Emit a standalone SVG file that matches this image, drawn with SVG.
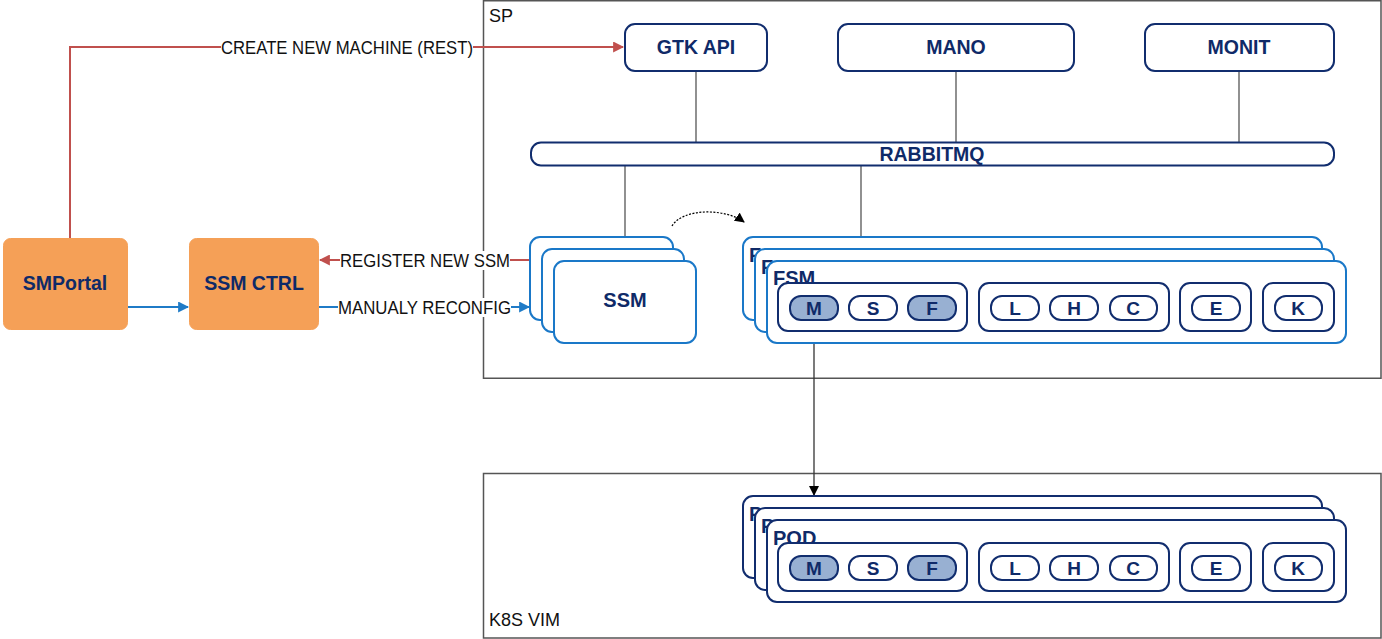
<svg xmlns="http://www.w3.org/2000/svg" width="1382" height="639" viewBox="0 0 1382 639">
<defs>
<style>
.frame{fill:#fff;stroke:#555;stroke-width:1.5}
.lbl{font-family:"Liberation Sans",Arial,sans-serif;font-size:18px;fill:#111}
.nt{font-family:"Liberation Sans",Arial,sans-serif;font-weight:bold;font-size:19.5px;fill:#0f2a68;text-anchor:middle}
.pt{font-family:"Liberation Sans",Arial,sans-serif;font-weight:bold;font-size:19px;fill:#0f2a68;text-anchor:middle}
.ct{font-family:"Liberation Sans",Arial,sans-serif;font-weight:bold;font-size:20px;fill:#0f2a68}
.box{fill:#fff;stroke:#112d6e;stroke-width:2}
.card{fill:#fff;stroke:#1a78c8;stroke-width:2}
.pod{fill:#fff;stroke:#112d6e;stroke-width:2}
.grp{fill:#fff;stroke:#112d6e;stroke-width:2}
.pill{fill:#fff;stroke:#112d6e;stroke-width:2}
.pillf{fill:#98b0d2;stroke:#112d6e;stroke-width:2}
.orange{fill:#f5a057;stroke:#f5a057;stroke-width:1}
.bus{fill:none;stroke:#555;stroke-width:1.3}
.red{fill:none;stroke:#c0504d;stroke-width:2}
.blue{fill:none;stroke:#1f7bc7;stroke-width:2}
.blk{fill:none;stroke:#333;stroke-width:1.3}
.lblbg{fill:#fff}
</style>
<marker id="ar" viewBox="0 0 10 10" refX="9" refY="5" markerWidth="11" markerHeight="11" orient="auto" markerUnits="userSpaceOnUse">
<path d="M0,0 L10,5 L0,10 z" fill="#c0504d"/>
</marker>
<marker id="ab" viewBox="0 0 10 10" refX="9" refY="5" markerWidth="11" markerHeight="11" orient="auto" markerUnits="userSpaceOnUse">
<path d="M0,0 L10,5 L0,10 z" fill="#1f7bc7"/>
</marker>
<marker id="ak" viewBox="0 0 10 10" refX="9" refY="5" markerWidth="10" markerHeight="10" orient="auto" markerUnits="userSpaceOnUse">
<path d="M0,0 L10,5 L0,10 z" fill="#000"/>
</marker>
</defs>

<g id="sp">
<rect class="frame" x="483.5" y="0.75" width="897.5" height="377.5"/>
<text class="lbl" x="489" y="22">SP</text>
</g>
<g id="k8s">
<rect class="frame" x="483.5" y="473.5" width="897.5" height="164.5"/>
<text class="lbl" x="489" y="626">K8S VIM</text>
</g>

<g id="connectors">
<line class="bus" x1="696" y1="72" x2="696" y2="142"/>
<line class="bus" x1="956" y1="72" x2="956" y2="142"/>
<line class="bus" x1="1239" y1="72" x2="1239" y2="142"/>
<line class="bus" x1="625" y1="166" x2="625" y2="237"/>
<line class="bus" x1="861" y1="166" x2="861" y2="237"/>
<polyline class="red" points="70,238 70,47 623,47" marker-end="url(#ar)"/>
<line class="red" x1="530" y1="260" x2="320" y2="260" marker-end="url(#ar)"/>
<line class="blue" x1="128" y1="307" x2="188" y2="307" marker-end="url(#ab)"/>
<line class="blue" x1="319" y1="307" x2="529" y2="307" marker-end="url(#ab)"/>
<path d="M672,226 C683,208 725,208 744,222" fill="none" stroke="#000" stroke-width="1.2" stroke-dasharray="2,1.5" marker-end="url(#ak)"/>
<line class="blk" x1="814" y1="343" x2="814" y2="495" marker-end="url(#ak)"/>
<rect class="lblbg" x="221" y="38" width="252" height="19"/>
<text class="lbl" x="221" y="53.5" textLength="252" lengthAdjust="spacingAndGlyphs">CREATE NEW MACHINE (REST)</text>
<rect class="lblbg" x="340" y="251" width="170" height="19"/>
<text class="lbl" x="340" y="266.5" textLength="170" lengthAdjust="spacingAndGlyphs">REGISTER NEW SSM</text>
<rect class="lblbg" x="338" y="298" width="173" height="19"/>
<text class="lbl" x="338" y="313.5" textLength="173" lengthAdjust="spacingAndGlyphs">MANUALY RECONFIG</text>
</g>

<g id="gtk">
<rect class="box" x="625" y="24" width="142" height="47" rx="10"/>
<text class="nt" x="696" y="54">GTK API</text>
</g>
<g id="mano">
<rect class="box" x="838" y="24" width="236" height="47" rx="10"/>
<text class="nt" x="956" y="54">MANO</text>
</g>
<g id="monit">
<rect class="box" x="1145" y="24" width="189" height="47" rx="10"/>
<text class="nt" x="1239" y="54">MONIT</text>
</g>
<g id="rabbitmq">
<rect class="box" x="531" y="142.5" width="803" height="23" rx="10"/>
<text class="nt" x="932" y="161">RABBITMQ</text>
</g>

<g id="smportal">
<rect class="orange" x="3.5" y="238.5" width="124" height="91" rx="7"/>
<text class="nt" x="65" y="290">SMPortal</text>
</g>
<g id="ssmctrl">
<rect class="orange" x="189.5" y="238.5" width="129" height="91" rx="7"/>
<text class="nt" x="254" y="290">SSM CTRL</text>
</g>

<g id="ssm">
<rect class="card" x="530" y="237" width="143" height="83" rx="10"/>
<rect class="card" x="542" y="249" width="142" height="83" rx="10"/>
<rect class="card" x="554" y="261" width="142" height="82" rx="10"/>
<text class="ct" x="625" y="307" text-anchor="middle">SSM</text>
</g>

<g id="fsm">
<rect class="card" x="743" y="237" width="579" height="83" rx="10"/>
<text class="ct" x="749" y="262">FSM</text>
<rect class="card" x="755" y="249" width="579" height="83" rx="10"/>
<text class="ct" x="761" y="274">FSM</text>
<rect class="card" x="767" y="261" width="579" height="82" rx="10"/>
<text class="ct" x="773" y="285">FSM</text>
<rect class="grp" x="778" y="283" width="189" height="48" rx="10"/>
<rect class="grp" x="979" y="283" width="190" height="48" rx="10"/>
<rect class="grp" x="1180" y="283" width="71" height="48" rx="10"/>
<rect class="grp" x="1263" y="283" width="71" height="48" rx="10"/>
<rect class="pillf" x="790" y="296" width="48" height="24" rx="11"/>
<rect class="pill" x="849" y="296" width="48" height="24" rx="11"/>
<rect class="pillf" x="908" y="296" width="48" height="24" rx="11"/>
<rect class="pill" x="991" y="296" width="48" height="24" rx="11"/>
<rect class="pill" x="1050" y="296" width="48" height="24" rx="11"/>
<rect class="pill" x="1110" y="296" width="47" height="24" rx="11"/>
<rect class="pill" x="1192" y="296" width="48" height="24" rx="11"/>
<rect class="pill" x="1275" y="296" width="47" height="24" rx="11"/>
<text class="pt" x="814" y="315">M</text>
<text class="pt" x="873" y="315">S</text>
<text class="pt" x="932" y="315">F</text>
<text class="pt" x="1015" y="315">L</text>
<text class="pt" x="1074" y="315">H</text>
<text class="pt" x="1133" y="315">C</text>
<text class="pt" x="1216" y="315">E</text>
<text class="pt" x="1298" y="315">K</text>
</g>

<g id="pod">
<rect class="pod" x="743" y="496" width="579" height="82" rx="10"/>
<text class="ct" x="749" y="521">POD</text>
<rect class="pod" x="755" y="508" width="579" height="82" rx="10"/>
<text class="ct" x="761" y="533">POD</text>
<rect class="pod" x="767" y="520" width="579" height="82" rx="10"/>
<text class="ct" x="773" y="545">POD</text>
<rect class="grp" x="778" y="543" width="189" height="48" rx="10"/>
<rect class="grp" x="979" y="543" width="190" height="48" rx="10"/>
<rect class="grp" x="1180" y="543" width="71" height="48" rx="10"/>
<rect class="grp" x="1263" y="543" width="71" height="48" rx="10"/>
<rect class="pillf" x="790" y="556" width="48" height="24" rx="11"/>
<rect class="pill" x="849" y="556" width="48" height="24" rx="11"/>
<rect class="pillf" x="908" y="556" width="48" height="24" rx="11"/>
<rect class="pill" x="991" y="556" width="48" height="24" rx="11"/>
<rect class="pill" x="1050" y="556" width="48" height="24" rx="11"/>
<rect class="pill" x="1110" y="556" width="47" height="24" rx="11"/>
<rect class="pill" x="1192" y="556" width="48" height="24" rx="11"/>
<rect class="pill" x="1275" y="556" width="47" height="24" rx="11"/>
<text class="pt" x="814" y="575">M</text>
<text class="pt" x="873" y="575">S</text>
<text class="pt" x="932" y="575">F</text>
<text class="pt" x="1015" y="575">L</text>
<text class="pt" x="1074" y="575">H</text>
<text class="pt" x="1133" y="575">C</text>
<text class="pt" x="1216" y="575">E</text>
<text class="pt" x="1298" y="575">K</text>
</g>
</svg>
